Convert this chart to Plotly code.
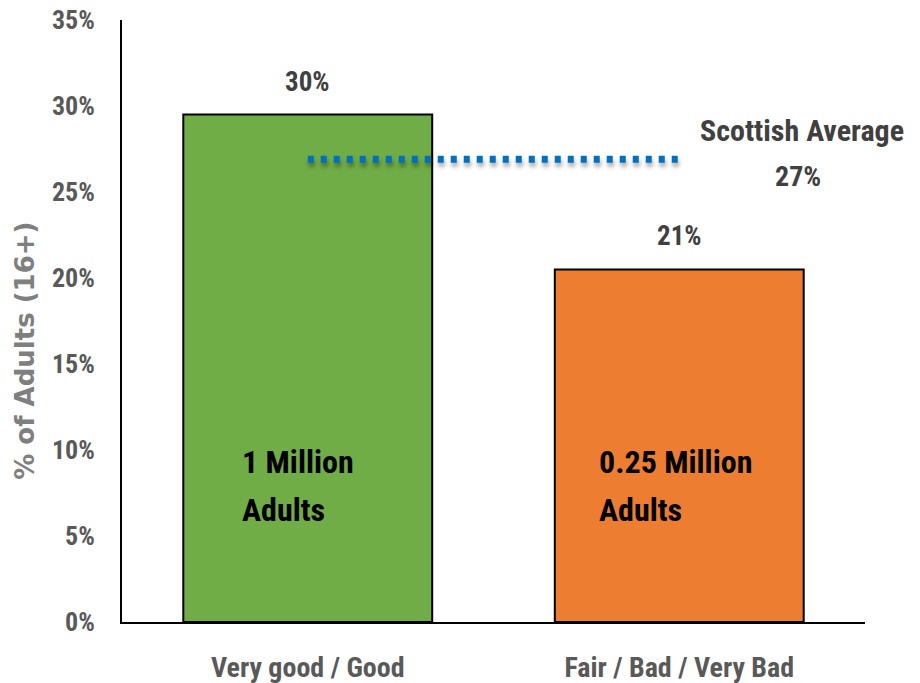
import plotly.graph_objects as go

# Self-rated health groups and share of adults (16+)
categories = ["Very good / Good", "Fair / Bad / Very Bad"]
share_pct = [29.5, 20.5]
bar_colors = ["#70AD47", "#ED7D31"]
adults_lines = [["1 Million", "Adults"], ["0.25 Million", "Adults"]]
scottish_avg = 26.9
y_ticks = [0, 5, 10, 15, 20, 25, 30, 35]
y_tick_labels = ["0%", "5%", "10%", "15%", "20%", "25%", "30%", "35%"]
y_title = "% of Adults (16+)"

FONT = "Roboto Condensed, Open Sans Condensed, DejaVu Sans Condensed, sans-serif"
GREY = "#595959"
DARK = "#404040"


def pct(v):
    # whole-percent label, rounding halves up
    return f"{int(v + 0.5)}%"


fig = go.Figure()

fig.add_trace(go.Bar(
    x=categories,
    y=share_pct,
    marker=dict(color=bar_colors, line=dict(color="#000000", width=2)),
    hoverinfo="x+y",
    showlegend=False,
))

# Scottish average reference line
fig.add_trace(go.Scatter(
    x=categories,
    y=[scottish_avg, scottish_avg],
    mode="lines",
    line=dict(color="#0070C0", width=7, dash="6px,7px"),
    hoverinfo="skip",
    showlegend=False,
))

annotations = []
for cat, val in zip(categories, share_pct):
    annotations.append(dict(
        x=cat, y=val, xref="x", yref="y",
        text=pct(val), showarrow=False,
        yanchor="middle", yshift=33,
        font=dict(family=FONT, size=27, color=DARK, weight="bold"),
    ))

# population counts written inside the bars
inner_xshift = [-68, -82]
for cat, lines, xs in zip(categories, adults_lines, inner_xshift):
    for k, line in enumerate(lines):
        annotations.append(dict(
            x=cat, y=9.3, xref="x", yref="y",
            text=line, showarrow=False,
            xanchor="left", yanchor="middle",
            xshift=xs, yshift=-48 * k,
            font=dict(family=FONT, size=32, color="#000000", weight="bold"),
        ))

annotations.append(dict(
    x=0.915, y=scottish_avg, xref="paper", yref="y",
    text="Scottish Average", showarrow=False,
    xanchor="center", yanchor="middle", yshift=29,
    font=dict(family=FONT, size=30, color=DARK, weight="bold"),
))
annotations.append(dict(
    x=0.91, y=scottish_avg, xref="paper", yref="y",
    text=pct(scottish_avg), showarrow=False,
    xanchor="center", yanchor="middle", yshift=-17,
    font=dict(family=FONT, size=28, color=DARK, weight="bold"),
))

# vertical axis title
annotations.append(dict(
    x=-0.131, y=0.45, xref="paper", yref="paper",
    text=y_title, textangle=-90, showarrow=False,
    xanchor="center", yanchor="middle",
    font=dict(family="DejaVu Sans, sans-serif", size=26,
              color="#7F7F7F", weight="bold"),
))

fig.update_layout(
    width=920, height=683,
    margin=dict(l=122, r=55, t=20, b=61, autoexpand=False),
    paper_bgcolor="white", plot_bgcolor="white",
    bargap=0.33,
    font=dict(family=FONT),
    annotations=annotations,
    xaxis=dict(
        showline=True, linecolor="#000000", linewidth=2,
        showgrid=False, ticks="", automargin=False,
        ticklabelstandoff=19,
        tickfont=dict(family=FONT, size=28, color=GREY, weight="bold"),
        fixedrange=True,
    ),
    yaxis=dict(
        range=[0, 35], tickvals=y_ticks, ticktext=y_tick_labels,
        showline=True, linecolor="#000000", linewidth=2,
        showgrid=False, zeroline=False, ticks="", automargin=False,
        ticklabelstandoff=20,
        tickfont=dict(family=FONT, size=26, color=GREY, weight="bold"),
        fixedrange=True,
    ),
)

# soft drop shadow under the dotted average line
shadow_js = """
document.querySelectorAll('.scatterlayer .js-line').forEach(function (p) {
  p.style.filter = 'drop-shadow(1px 4px 2px rgba(0,0,0,0.35))';
});
"""

fig.write_html("out.html", post_script=shadow_js)
